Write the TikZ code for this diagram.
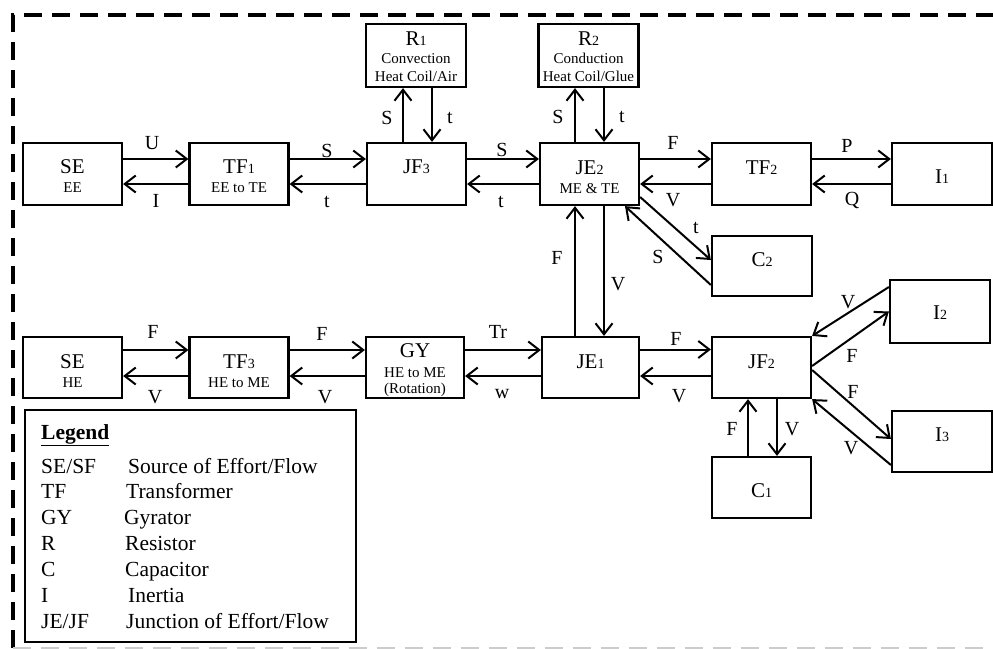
\documentclass[tikz,border=0pt]{standalone}
\usepackage{fontspec}
\setmainfont{Liberation Serif}
\usetikzlibrary{arrows.meta}
\newcommand{\sdig}[1]{{\fontsize{14}{14}\selectfont #1}}
\begin{document}
\begin{tikzpicture}[x=1pt,y=-1pt,
  box/.style={draw, line width=2.2pt, minimum width=99pt, minimum height=62pt, inner sep=0pt},
  arr/.style={line width=2pt, -{Straight Barb[length=11pt,width=17pt]}},
  lab/.style={anchor=base, inner sep=0pt, font=\fontsize{20}{20}\selectfont},
  big/.style={anchor=base, inner sep=0pt, font=\fontsize{21}{21}\selectfont},
  sml/.style={anchor=base, inner sep=0pt, font=\fontsize{15}{15}\selectfont},
  leg/.style={anchor=base west, inner sep=0pt, font=\fontsize{21.5}{21.5}\selectfont},
  frame/.style={line width=4pt, dash pattern=on 18pt off 10pt}]
\useasboundingbox (0,0) rectangle (993,648);
% frame
\draw[frame] (13,648) -- (13,15) -- (993,15);
\draw[frame, gray!40, line width=3pt] (13,648) -- (993,648);
% boxes
\node[box] (SE1) at (72.5,174) {};
\node[box] (TF1) at (239,174) {};
\node[box] (JF3) at (416.5,174) {};
\node[box, minimum width=100pt, minimum height=63pt] (R1) at (416,55.5) {};
\node[box, minimum width=100pt, minimum height=63pt] (R2) at (588.5,55.5) {};
\node[box] (JE2) at (589.5,174) {};
\node[box] (TF2) at (761.5,174) {};
\node[box, minimum width=100pt] (I1) at (942,174) {};
\node[box, minimum width=100pt, minimum height=60pt] (C2) at (762,266) {};
\node[box, minimum height=61pt] (SE2) at (72.5,367.5) {};
\node[box, minimum height=61pt] (TF3) at (239,367.5) {};
\node[box, minimum width=98pt, minimum height=61pt] (GY) at (415,367.5) {};
\node[box, minimum width=97pt, minimum height=61pt] (JE1) at (590.5,367.5) {};
\node[box, minimum height=61pt] (JF2) at (761.5,367.5) {};
\node[box, minimum width=100pt, minimum height=63pt] (I2) at (940,311.5) {};
\node[box, minimum width=100pt, minimum height=61pt] (I3) at (942,441.5) {};
\node[box, minimum height=61pt] (C1) at (761.5,487.5) {};
\node[draw, line width=2.2pt, minimum width=331pt, minimum height=232pt, inner sep=0pt] (LG) at (190.5,526) {};
% box texts
\node[big] (tSE1) at (72.5,173) {SE};
\node[sml] (tSE1b) at (72.5,192) {EE};
\node[big] (tTF1) at (239,173) {TF\sdig{1}};
\node[sml] (tTF1b) at (239,192) {EE to TE};
\node[big] (tJF3) at (416.5,173) {JF\sdig{3}};
\node[big] (tR1) at (416,45) {R\sdig{1}};
\node[sml] (tR1b) at (416,63) {Convection};
\node[sml] (tR1c) at (416,81) {Heat Coil/Air};
\node[big] (tR2) at (588.5,45) {R\sdig{2}};
\node[sml] (tR2b) at (588.5,63) {Conduction};
\node[sml] (tR2c) at (588.5,81) {Heat Coil/Glue};
\node[big] (tJE2) at (589.5,174) {JE\sdig{2}};
\node[sml] (tJE2b) at (589.5,193) {ME \& TE};
\node[big] (tTF2) at (761.5,174) {TF\sdig{2}};
\node[big] (tI1) at (942,183) {I\sdig{1}};
\node[big] (tC2) at (762,266) {C\sdig{2}};
\node[big] (tSE2) at (72.5,368) {SE};
\node[sml] (tSE2b) at (72.5,387) {HE};
\node[big] (tTF3) at (239,368) {TF\sdig{3}};
\node[sml] (tTF3b) at (239,387) {HE to ME};
\node[big] (tGY) at (415,357) {GY};
\node[sml] (tGYb) at (415,377) {HE to ME};
\node[sml] (tGYc) at (415,393) {(Rotation)};
\node[big] (tJE1) at (590.5,368) {JE\sdig{1}};
\node[big] (tJF2) at (761.5,368) {JF\sdig{2}};
\node[big] (tI2) at (940,319) {I\sdig{2}};
\node[big] (tI3) at (942,441) {I\sdig{3}};
\node[big] (tC1) at (761.5,497) {C\sdig{1}};
% row 1 arrows
\draw[arr] ([yshift=15pt]SE1.east) -- ([yshift=15pt]TF1.west);
\draw[arr] ([yshift=-10pt]TF1.west) -- ([yshift=-10pt]SE1.east);
\draw[arr] ([yshift=15pt]TF1.east) -- ([yshift=15pt]JF3.west);
\draw[arr] ([yshift=-10pt]JF3.west) -- ([yshift=-10pt]TF1.east);
\draw[arr] ([yshift=15pt]JF3.east) -- ([yshift=15pt]JE2.west);
\draw[arr] ([yshift=-10pt]JE2.west) -- ([yshift=-10pt]JF3.east);
\draw[arr] ([yshift=15pt]JE2.east) -- ([yshift=15pt]TF2.west);
\draw[arr] ([yshift=-10pt]TF2.west) -- ([yshift=-10pt]JE2.east);
\draw[arr] ([yshift=15pt]TF2.east) -- ([yshift=15pt]I1.west);
\draw[arr] ([yshift=-10pt]I1.west) -- ([yshift=-10pt]TF2.east);
% row 2 arrows
\draw[arr] ([yshift=17.5pt]SE2.east) -- ([yshift=17.5pt]TF3.west);
\draw[arr] ([yshift=-8.5pt]TF3.west) -- ([yshift=-8.5pt]SE2.east);
\draw[arr] ([yshift=17.5pt]TF3.east) -- ([yshift=17.5pt]GY.west);
\draw[arr] ([yshift=-8.5pt]GY.west) -- ([yshift=-8.5pt]TF3.east);
\draw[arr] ([yshift=17.5pt]GY.east) -- ([yshift=17.5pt]JE1.west);
\draw[arr] ([yshift=-8.5pt]JE1.west) -- ([yshift=-8.5pt]GY.east);
\draw[arr] ([yshift=18pt]JE1.east) -- ([yshift=18pt]JF2.west);
\draw[arr] ([yshift=-8.5pt]JF2.west) -- ([yshift=-8.5pt]JE1.east);
% vertical arrows
\draw[arr] ([xshift=-13.5pt]JF3.north) -- ([xshift=-13.5pt]JF3.north |- R1.south);
\draw[arr] ([xshift=15.5pt]JF3.north |- R1.south) -- ([xshift=15.5pt]JF3.north);
\draw[arr] ([xshift=-14.5pt]JE2.north) -- ([xshift=-14.5pt]JE2.north |- R2.south);
\draw[arr] ([xshift=14.5pt]JE2.north |- R2.south) -- ([xshift=14.5pt]JE2.north);
\draw[arr] ([xshift=-14.5pt]JE2.south |- JE1.north) -- ([xshift=-14.5pt]JE2.south);
\draw[arr] ([xshift=14.5pt]JE2.south) -- ([xshift=14.5pt]JE2.south |- JE1.north);
\draw[arr] ([xshift=-13.5pt]JF2.south |- C1.north) -- ([xshift=-13.5pt]JF2.south);
\draw[arr] ([xshift=15.5pt]JF2.south) -- ([xshift=15.5pt]JF2.south |- C1.north);
% diagonal arrows
\draw[arr] ([yshift=-23pt]JE2.east) -- ([yshift=6pt]C2.west);
\draw[arr] ([yshift=-19pt]C2.west) -- ([xshift=35.5pt]JE2.south);
\draw[arr] ([yshift=24.5pt]I2.west) -- (JF2.north east);
\draw[arr] ([yshift=1.5pt]JF2.east) -- (I2.west);
\draw[arr] ([yshift=-2.5pt]JF2.east) -- ([yshift=2.5pt]I3.west);
\draw[arr] ([yshift=-23.5pt]I3.west) -- (JF2.south east);
% arrow labels
\node[lab] (lU) at (152,149) {U};
\node[lab] (lI) at (156,207) {I};
\node[lab] (lS1) at (327,157) {S};
\node[lab] (lt1) at (327,207) {t};
\node[lab] (lS2) at (387,124) {S};
\node[lab] (lt2) at (450,123) {t};
\node[lab] (lS3) at (502,156) {S};
\node[lab] (lt3) at (501,207) {t};
\node[lab] (lS4) at (558,123) {S};
\node[lab] (lt4) at (622,122) {t};
\node[lab] (lF1) at (673,149) {F};
\node[lab] (lV1) at (673,206) {V};
\node[lab] (lP) at (847,152) {P};
\node[lab] (lQ) at (852,205) {Q};
\node[lab] (lt5) at (696,233) {t};
\node[lab] (lS5) at (658,263) {S};
\node[lab] (lF2) at (557,264) {F};
\node[lab] (lV2) at (618,290) {V};
\node[lab] (lF3) at (153,338) {F};
\node[lab] (lV3) at (155,403) {V};
\node[lab] (lF4) at (322,340) {F};
\node[lab] (lV4) at (325,403) {V};
\node[lab] (lTr) at (498,338) {Tr};
\node[lab] (lw) at (502,398) {w};
\node[lab] (lF5) at (676,345) {F};
\node[lab] (lV5) at (679,402) {V};
\node[lab] (lV6) at (848,308) {V};
\node[lab] (lF6) at (852,362) {F};
\node[lab] (lF7) at (853,398) {F};
\node[lab] (lV7) at (851,454) {V};
\node[lab] (lF8) at (732,435) {F};
\node[lab] (lV8) at (792,435) {V};
% legend
\node[leg, font=\fontsize{21.5}{21.5}\selectfont\bfseries] (lgT) at (41,439) {\underline{Legend}};
\node[leg] (lg1a) at (41,473) {SE/SF};
\node[leg] (lg1b) at (128,473) {Source of Effort/Flow};
\node[leg] (lg2a) at (41,498) {TF};
\node[leg] (lg2b) at (126,498) {Transformer};
\node[leg] (lg3a) at (41,524) {GY};
\node[leg] (lg3b) at (124,524) {Gyrator};
\node[leg] (lg4a) at (41,550) {R};
\node[leg] (lg4b) at (125,550) {Resistor};
\node[leg] (lg5a) at (41,576) {C};
\node[leg] (lg5b) at (125,576) {Capacitor};
\node[leg] (lg6a) at (41,602) {I};
\node[leg] (lg6b) at (128,602) {Inertia};
\node[leg] (lg7a) at (41,628) {JE/JF};
\node[leg] (lg7b) at (126,628) {Junction of Effort/Flow};
\end{tikzpicture}
\end{document}
